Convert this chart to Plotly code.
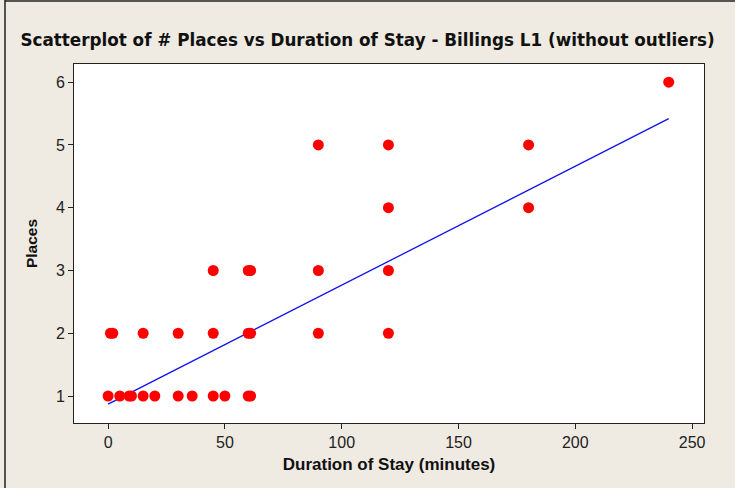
import plotly.graph_objects as go

# Data
duration = [0, 1, 2, 5, 9, 10, 15, 15, 20, 30, 30, 36, 45, 45, 45, 50,
            60, 60, 60, 61, 61, 61, 90, 90, 90, 120, 120, 120, 120, 180, 180, 240]
places = [1, 2, 2, 1, 1, 1, 1, 2, 1, 1, 2, 1, 1, 2, 3, 1,
          1, 2, 3, 1, 2, 3, 2, 3, 5, 2, 3, 4, 5, 4, 5, 6]
fit_x = [0, 240]
fit_y = [0.87, 5.42]
x_ticks = [0, 50, 100, 150, 200, 250]
y_ticks = [1, 2, 3, 4, 5, 6]

bg = "#EFEBE2"
fig = go.Figure()
fig.add_trace(go.Scatter(x=fit_x, y=fit_y, mode="lines",
                         line=dict(color="#1010F0", width=1.3), showlegend=False))
fig.add_trace(go.Scatter(x=duration, y=places, mode="markers",
                         marker=dict(color="#FF0000", size=11, line=dict(width=0)),
                         showlegend=False))

axis_common = dict(showgrid=False, zeroline=False, showline=True, mirror=True,
                   linecolor="#222222", linewidth=1, ticks="outside", ticklen=5,
                   tickcolor="#222222",
                   tickfont=dict(family="Liberation Sans", size=16, color="#222222"))

PW, PH = 630, 359
fig.update_layout(
    width=735, height=488,
    paper_bgcolor=bg, plot_bgcolor="white",
    margin=dict(l=74, r=31, t=64, b=65),
    title=dict(text="<b>Scatterplot of # Places vs Duration of Stay - Billings L1 (without outliers)</b>",
               x=0.5, xanchor="center", y=1 - 40 / 488, yanchor="middle",
               font=dict(family="DejaVu Sans", size=16.8, color="#111111")),
    xaxis=dict(range=[-14.6, 255.1], tickvals=x_ticks,
               title=dict(text="<b>Duration of Stay (minutes)</b>", standoff=7,
                          font=dict(family="Liberation Sans", size=17, color="#111111")),
               **axis_common),
    yaxis=dict(range=[0.57, 6.29], tickvals=y_ticks,
               title=dict(text="<b>Places</b>", standoff=14,
                          font=dict(family="Liberation Sans", size=15.5, color="#111111")),
               **axis_common),
    shapes=[
        dict(type="line", xref="paper", yref="paper",
             x0=-69 / PW, x1=-69 / PW, y0=-66 / PH, y1=(PH + 64) / PH,
             line=dict(color="#222222", width=1.5)),
        dict(type="line", xref="paper", yref="paper",
             x0=-69 / PW, x1=(PW + 31) / PW, y0=(PH + 63) / PH, y1=(PH + 63) / PH,
             line=dict(color="#222222", width=1.5)),
    ],
)
fig.write_html("out.html", config={"displayModeBar": False},
               post_script="document.body.style.margin='0';document.body.style.overflow='hidden';")
